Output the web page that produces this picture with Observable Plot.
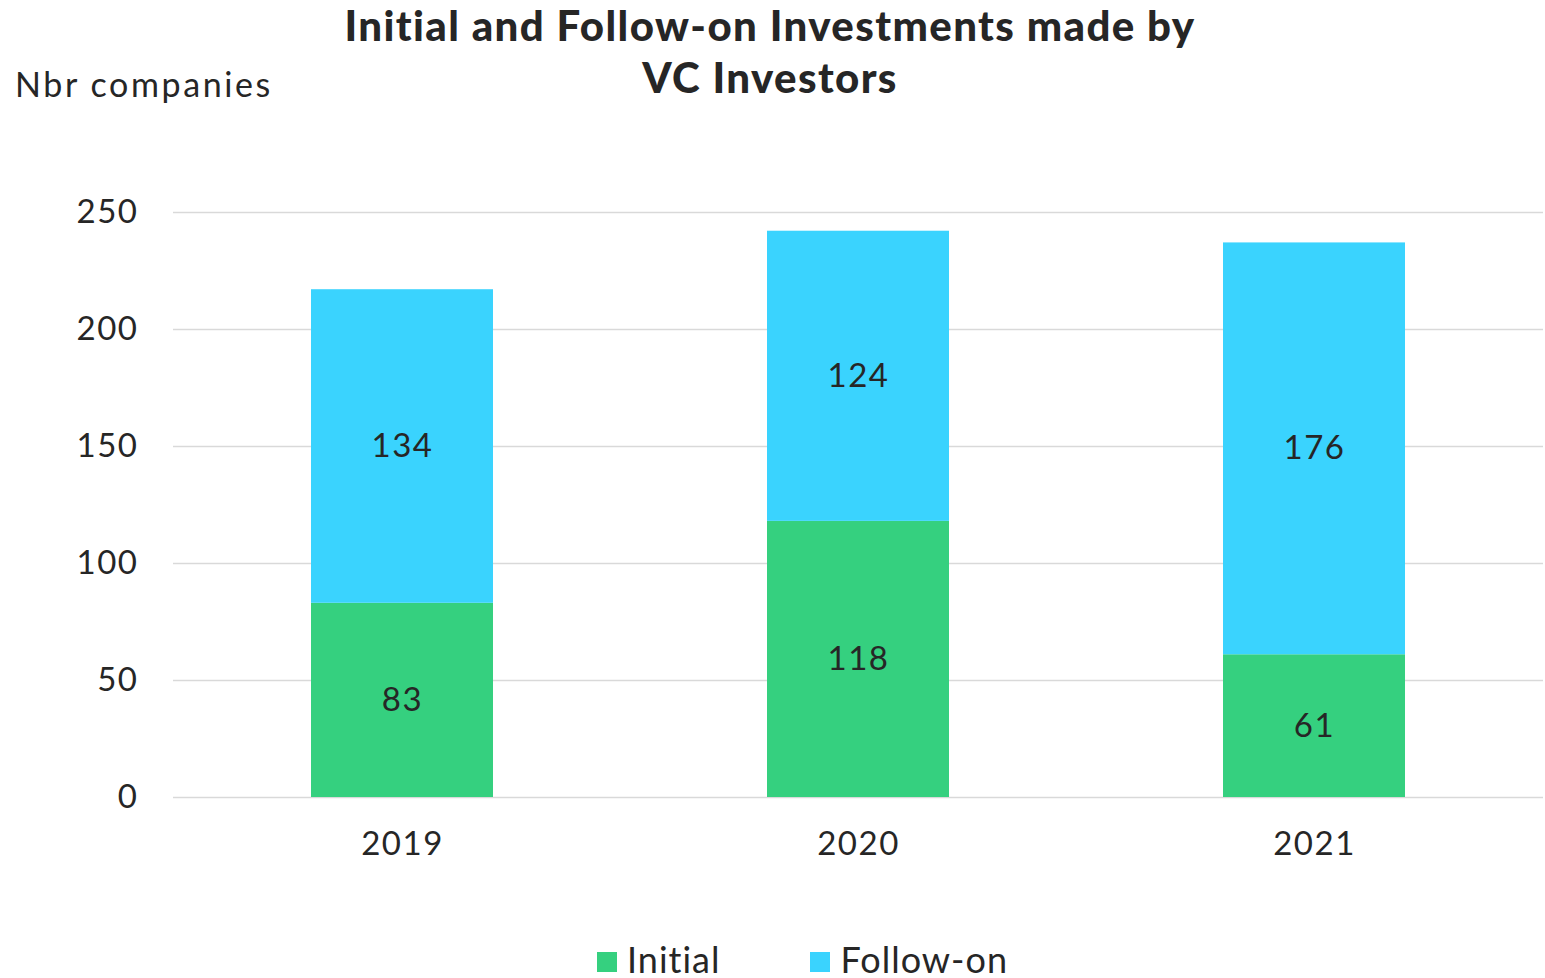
<!DOCTYPE html>
<html>
<head>
<meta charset="utf-8">
<script src="https://cdn.jsdelivr.net/npm/d3@7"></script>
<script src="https://cdn.jsdelivr.net/npm/@observablehq/plot@0.6"></script>
<style>
  html, body { margin: 0; padding: 0; background: #fff; }
  body { width: 1545px; height: 978px; position: relative; overflow: hidden; font-family: Lato, "Open Sans", sans-serif; color: #262626; }
  #title { position: absolute; left: 0; width: 1540px; top: -1px; text-align: center; }
  #title div { font-weight: 900; font-size: 42px; line-height: 52px; letter-spacing: 1.4px; }
  #ylabel { position: absolute; left: 15px; top: 63px; font-size: 34px; font-weight: 400; letter-spacing: 2.6px; }
  #chart { position: absolute; left: 0; top: 0; }
  #legend { position: absolute; left: 597px; top: 937px; display: flex; align-items: center; font-size: 36px; letter-spacing: 1px; }
  .item { display: flex; align-items: center; }
  .sw { width: 20px; height: 20px; margin-right: 10px; margin-top: 6px; }
  #chart svg text { letter-spacing: 1.5px; }
</style>
</head>
<body>
<div id="chart"></div>
<div id="title"><div>Initial and Follow-on Investments made by</div><div>VC Investors</div></div>
<div id="ylabel">Nbr companies</div>
<div id="legend"></div>
<script>
const years = ["2019", "2020", "2021"];
const seriesNames = ["Initial", "Follow-on"];
const initialValues = [83, 118, 61];
const followOnValues = [134, 124, 176];
const seriesColors = ["#35D07F", "#3AD3FE"];
const yTicks = [0, 50, 100, 150, 200, 250];

const data = [];
years.forEach((yr, i) => data.push({year: yr, series: seriesNames[0], value: initialValues[i]}));
years.forEach((yr, i) => data.push({year: yr, series: seriesNames[1], value: followOnValues[i]}));

const chart = Plot.plot({
  width: 1545,
  height: 978,
  marginTop: 212,
  marginBottom: 181,
  marginLeft: 173,
  marginRight: 2,
  style: {fontFamily: "Lato, 'Open Sans', sans-serif", fontSize: "33px", color: "#262626", background: "transparent"},
  x: {domain: years, paddingInner: 0.6, paddingOuter: 0.3, label: null, tickSize: 0, tickPadding: 34},
  y: {domain: [0, 250], ticks: yTicks, label: null, tickSize: 0, tickPadding: 35, grid: false},
  color: {domain: seriesNames, range: seriesColors},
  marks: [
    Plot.ruleY(yTicks, {stroke: "#d9d9d9", strokeWidth: 1.5, strokeOpacity: 1}),
    Plot.barY(data, {x: "year", y: "value", z: "series", fill: "series", order: seriesNames}),
    Plot.text(data, Plot.stackY({x: "year", y: "value", z: "series", order: seriesNames, text: d => String(d.value), fill: "#262626", fontSize: 33}))
  ]
});
document.getElementById("chart").appendChild(chart);

const legend = document.getElementById("legend");
seriesNames.forEach((name, i) => {
  const item = document.createElement("div");
  item.className = "item";
  item.style.marginRight = i === 0 ? "90px" : "0";
  const sw = document.createElement("div");
  sw.className = "sw";
  sw.style.background = seriesColors[i];
  const lab = document.createElement("span");
  lab.textContent = name;
  item.appendChild(sw);
  item.appendChild(lab);
  legend.appendChild(item);
});
</script>
</body>
</html>
